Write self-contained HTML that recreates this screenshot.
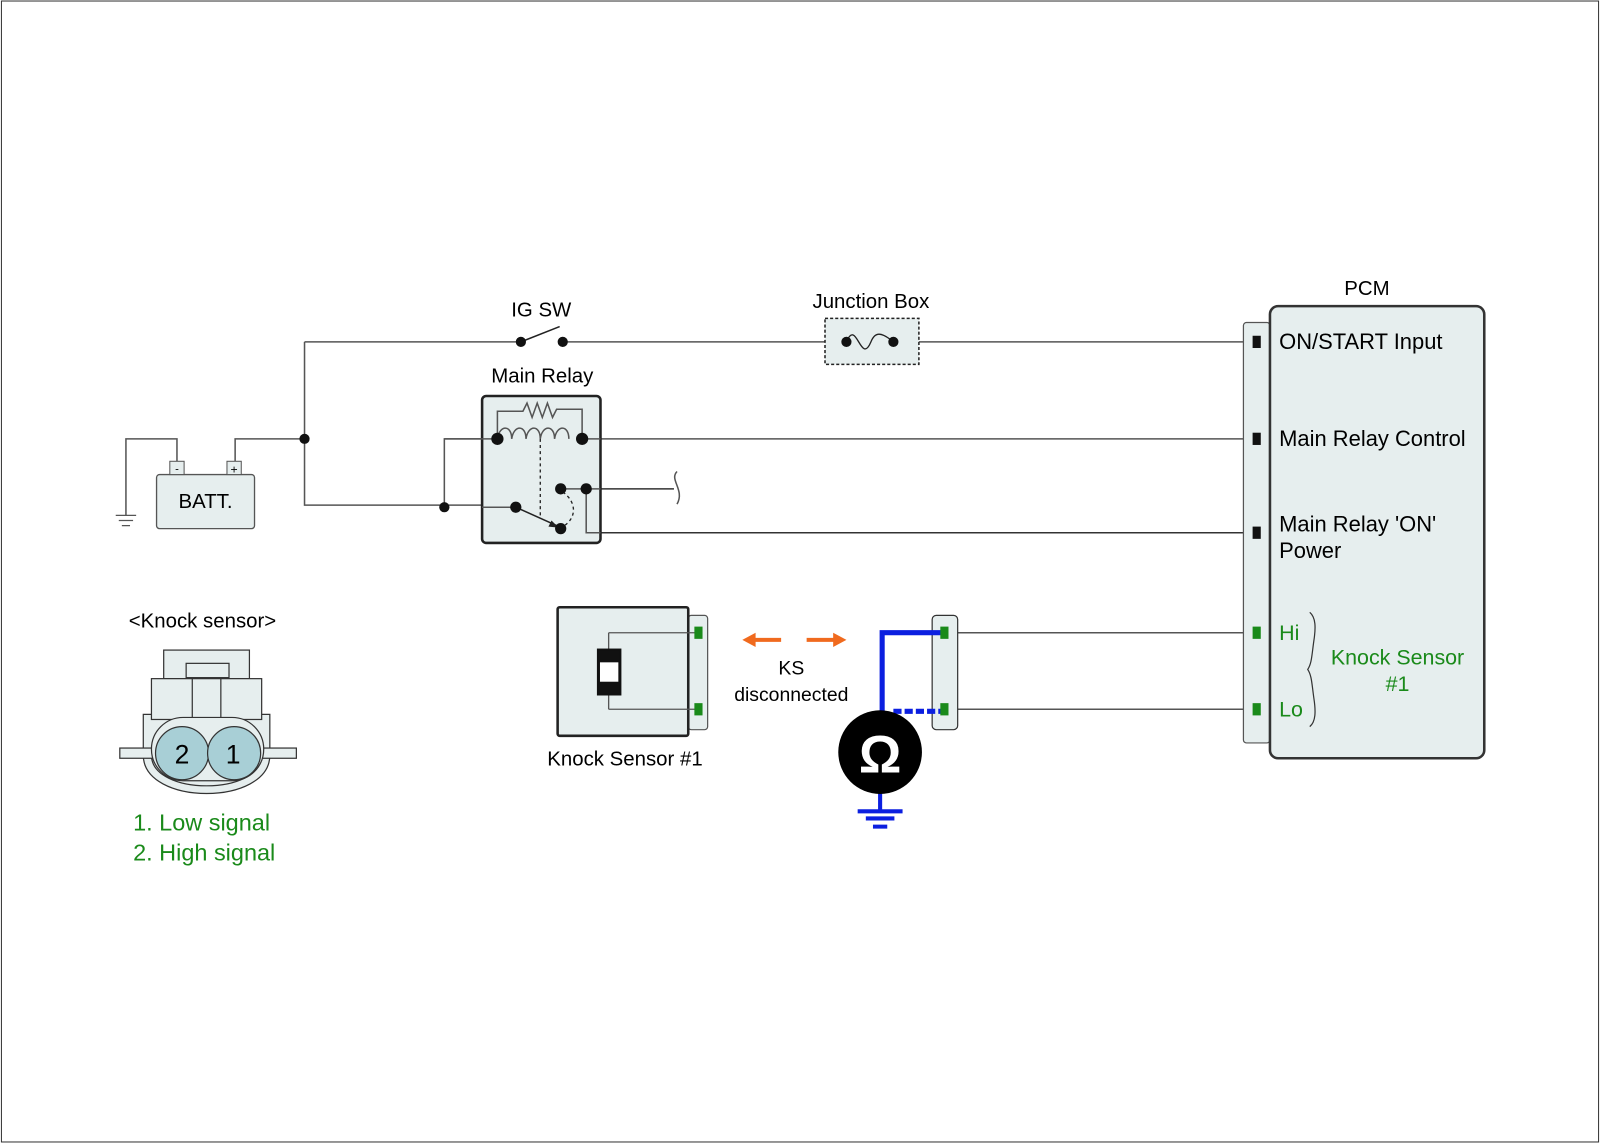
<!DOCTYPE html>
<html><head><meta charset="utf-8"><style>html,body{margin:0;padding:0;background:#fff}svg{display:block}text{font-family:"Liberation Sans",Arial,sans-serif}</style></head><body>
<svg width="1600" height="1143" viewBox="0 0 1567 1120" xmlns="http://www.w3.org/2000/svg">
<rect x="1" y="1" width="1565" height="1118" fill="#fff" stroke="#333" stroke-width="1"/>
<g stroke="#555" stroke-width="1.5" fill="none">
<path d="M298 335H510M551 335H808M900 335H1230"/>
<path d="M510 335L548 320" stroke="#222"/>
<path d="M298 335V495H505M230 455V430H298M173 455V430H123V505"/>
<path d="M435 497V430H487M570 430H1230"/>
<path d="M549 479H660M574 479V522H1230" stroke="#333"/>
<path d="M663 462c-8 8 8 18 0 32"/>
<path d="M925 620H1230M925 695H1230"/>
</g>
<path d="M113 505h20M116 510h14M119 515h8" stroke="#555" stroke-width="1.2"/>
<rect x="472" y="388" width="116" height="144" rx="4" fill="#e6eeee" stroke="#222" stroke-width="2.5"/>
<g stroke="#555" stroke-width="1.5" fill="none">
<path d="M487 430V403H512l4-8 5 14 5-14 5 14 5-14 5 14 4-8H570V430"/>
<path d="M487 430c2-14 14-14 14 0c2-14 14-14 14 0c2-14 14-14 14 0c2-14 14-14 14 0c2-14 14-14 14 0"/>
<path d="M435 430H487M570 430H588M574 479V522H588M549 479H588M472 497H505"/>
</g>
<path d="M505 497L545 515" stroke="#222" stroke-width="1.5"/><path d="M547 517l-10-1 3-6z" fill="#222"/>
<path d="M529 430V507" stroke="#222" stroke-width="1.3" stroke-dasharray="3,3"/>
<path d="M551 482c14 10 14 26 0 34" stroke="#222" stroke-width="1.3" stroke-dasharray="3,3" fill="none"/>
<g fill="#111">
<circle cx="298" cy="430" r="5"/><circle cx="435" cy="497" r="5"/><circle cx="510" cy="335" r="5"/><circle cx="551" cy="335" r="5"/>
<circle cx="487" cy="430" r="6"/><circle cx="570" cy="430" r="6"/><circle cx="549" cy="479" r="5.5"/><circle cx="574" cy="479" r="5.5"/><circle cx="505" cy="497" r="5.5"/><circle cx="549" cy="518" r="5.5"/>
</g>
<rect x="808" y="312" width="92" height="45" fill="#e6eeee" stroke="#222" stroke-width="1.5" stroke-dasharray="3,2"/>
<path d="M829 335c10-24 14 24 24 0c4-10 10-10 22 0" stroke="#222" stroke-width="1.3" fill="none"/>
<circle cx="829" cy="335" r="5" fill="#111"/><circle cx="875" cy="335" r="5" fill="#111"/>
<text x="530" y="310" font-size="20" text-anchor="middle">IG SW</text>
<text x="853" y="302" font-size="20" text-anchor="middle">Junction Box</text>
<text x="531" y="375" font-size="20" text-anchor="middle">Main Relay</text>
<rect x="153" y="465" width="96" height="53" rx="3" fill="#e6eeee" stroke="#555" stroke-width="1.3"/>
<rect x="166" y="452" width="14" height="13" fill="#e6eeee" stroke="#555"/><rect x="222" y="452" width="14" height="13" fill="#e6eeee" stroke="#555"/>
<text x="173" y="463" font-size="11" text-anchor="middle">-</text><text x="229" y="464" font-size="12" text-anchor="middle">+</text>
<text x="201" y="498" font-size="20" text-anchor="middle">BATT.</text>
<rect x="1218" y="316" width="26" height="412" rx="3" fill="#e6eeee" stroke="#555" stroke-width="1.2"/>
<rect x="1244" y="300" width="210" height="443" rx="8" fill="#e6eeee" stroke="#333" stroke-width="2.5"/>
<text x="1339" y="289" font-size="20" text-anchor="middle">PCM</text>
<g fill="#111"><rect x="1227" y="329" width="8" height="12"/><rect x="1227" y="424" width="8" height="12"/><rect x="1227" y="516" width="8" height="12"/></g>
<g fill="#1a8a1a"><rect x="1227" y="614" width="8" height="12"/><rect x="1227" y="689" width="8" height="12"/></g>
<g font-size="21.5"><text x="1253" y="342">ON/START Input</text><text x="1253" y="437">Main Relay Control</text><text x="1253" y="521">Main Relay 'ON'</text><text x="1253" y="547">Power</text></g>
<g font-size="21" fill="#1a8a1a"><text x="1253" y="627">Hi</text><text x="1253" y="702">Lo</text><text x="1369" y="651" text-anchor="middle">Knock Sensor</text><text x="1369" y="677" text-anchor="middle">#1</text></g>
<path d="M1283 600c6 5 6 15 4 28c-2 14-2 22-6 28c4 6 4 14 6 28c2 13 2 23-4 28" stroke="#333" stroke-width="1.2" fill="none"/>
<rect x="674" y="603" width="19" height="112" rx="3" fill="#e6eeee" stroke="#555" stroke-width="1.2"/>
<rect x="546" y="595" width="128" height="126" rx="2" fill="#e6eeee" stroke="#222" stroke-width="2.5"/>
<path d="M596 620H681M596 695H681M596 620V695" stroke="#555" stroke-width="1.3" fill="none"/>
<rect x="586" y="637" width="21" height="43" fill="#fff" stroke="#111" stroke-width="3"/>
<rect x="586" y="637" width="21" height="12" fill="#111"/><rect x="586" y="668" width="21" height="12" fill="#111"/>
<g fill="#1a8a1a"><rect x="680" y="614" width="8" height="12"/><rect x="680" y="689" width="8" height="12"/></g>
<text x="612" y="750" font-size="20" text-anchor="middle">Knock Sensor #1</text>
<path d="M765 627H738" stroke="#f06a1e" stroke-width="4"/><path d="M727 627l13-7v14z" fill="#f06a1e"/>
<path d="M790 627H817" stroke="#f06a1e" stroke-width="4"/><path d="M829 627l-13-7v14z" fill="#f06a1e"/>
<text x="775" y="661" font-size="19" text-anchor="middle">KS</text><text x="775" y="687" font-size="19" text-anchor="middle">disconnected</text>
<rect x="913" y="603" width="25" height="112" rx="4" fill="#e6eeee" stroke="#333" stroke-width="1.2"/>
<path d="M925 620H864V700" stroke="#0b1fe0" stroke-width="5" fill="none"/>
<path d="M875 697H925" stroke="#0b1fe0" stroke-width="5" stroke-dasharray="8,3"/>
<g fill="#1a8a1a"><rect x="921" y="614" width="8" height="12"/><rect x="921" y="689" width="8" height="12"/></g>
<path d="M862 777V795M840 795h44M848 802h28M855 810h14" stroke="#0b1fe0" stroke-width="4"/>
<circle cx="862" cy="737" r="41" fill="#000"/>
<text x="862" y="757" font-size="52" font-weight="bold" fill="#fff" text-anchor="middle">Ω</text>
<text x="198" y="615" font-size="20" text-anchor="middle">&lt;Knock sensor&gt;</text>
<g stroke="#333" stroke-width="1.2" fill="#e6eeee">
<path d="M140 740c0 50 124 50 124 0V700H140z"/>
<path d="M148 740c0 40 108 40 108 0" fill="none"/>
<rect x="160" y="637" width="84" height="28"/><rect x="148" y="665" width="108" height="40"/>
<rect x="182" y="650" width="42" height="14"/><rect x="188" y="665" width="28" height="40"/>
<rect x="117" y="733" width="35" height="10"/><rect x="254" y="733" width="36" height="10"/>
<rect x="148" y="703" width="110" height="62" rx="31"/>
<circle cx="178" cy="738" r="26" fill="#a8cfd6"/><circle cx="229" cy="738" r="26" fill="#a8cfd6"/>
</g>
<text x="178" y="748" font-size="26" text-anchor="middle">2</text><text x="228" y="748" font-size="26" text-anchor="middle">1</text>
<g font-size="23" fill="#1a8a1a"><text x="130" y="814">1. Low signal</text><text x="130" y="843">2. High signal</text></g>
</svg>
</body></html>
